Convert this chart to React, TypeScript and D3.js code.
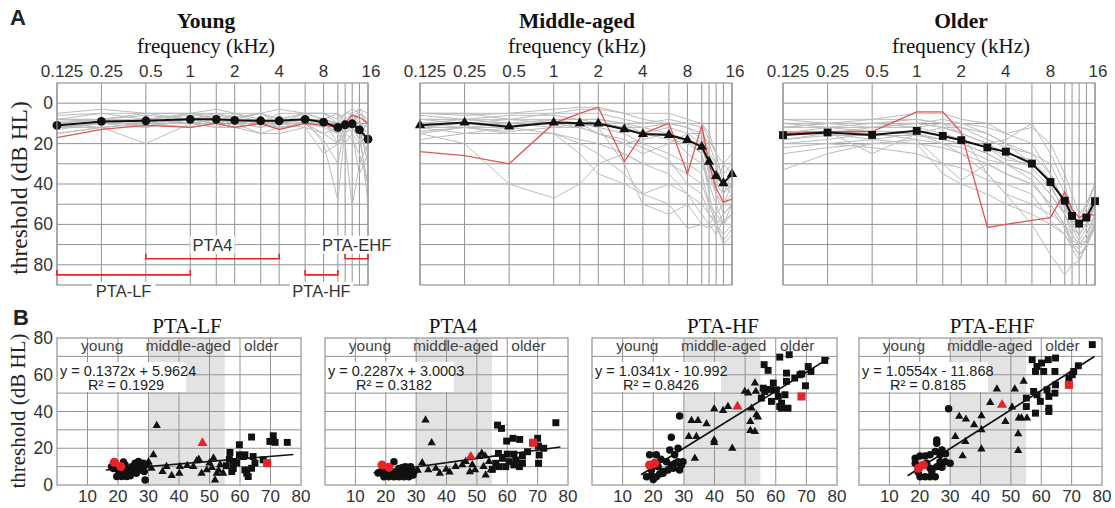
import React from "react";
import * as d3 from "d3";

const SANS = "'Liberation Sans', Arial, Helvetica, sans-serif";
const SERIF = "'Liberation Serif', 'Times New Roman', serif";

// ---------- Panel A data ----------
const FREQS = [0.125, 0.25, 0.5, 1, 1.5, 2, 3, 4, 6, 8, 10, 11.2, 12.5, 14, 16];
const FREQ_LABEL_VALUES = [0.125, 0.25, 0.5, 1, 2, 4, 8, 16];
const FREQ_LABELS = ["0.125", "0.25", "0.5", "1", "2", "4", "8", "16"];
const DB_TICKS = [0, 20, 40, 60, 80];

const YOUNG_MEAN = [11, 9, 8.7, 8, 8, 8.5, 8.7, 8.7, 8, 9.4, 12, 10.7, 10.2, 13.2, 17.8];
const YOUNG_RED = [17, 13, 11, 12, 10, 12, 10, 13, 10, 11, 12, 10, 6, 7, 10];
const YOUNG_INDIV = [
  [8, 5, 5, 5, 5, 7, 5, 8, 5, 5, 10, 5, 3, 5, 10],
  [10, 8, 10, 8, 6, 8, 8, 10, 8, 10, 15, 10, 8, 10, 20],
  [12, 10, 8, 10, 10, 5, 10, 8, 8, 10, 12, 15, 10, 15, 25],
  [15, 12, 20, 10, 8, 10, 12, 10, 10, 15, 20, 15, 18, 25, 40],
  [10, 10, 10, 5, 8, 10, 8, 12, 10, 8, 10, 8, 5, 10, 15],
  [8, 8, 5, 8, 10, 8, 10, 5, 5, 5, 5, 8, 10, 5, 8],
  [12, 10, 10, 10, 12, 12, 10, 10, 8, 20, 48, 12, 10, 12, 30],
  [10, 8, 12, 8, 5, 5, 8, 10, 5, 8, 10, 10, 8, 15, 18],
  [15, 12, 10, 12, 10, 12, 15, 12, 10, 12, 15, 20, 51, 30, 20],
  [5, 3, 5, 5, 3, 5, 5, 3, 5, 5, 8, 5, 5, 3, 5],
  [12, 10, 8, 10, 8, 10, 15, 15, 12, 25, 20, 15, 12, 18, 40],
  [10, 10, 12, 8, 10, 8, 5, 10, 10, 8, 12, 10, 15, 20, 15],
  [8, 8, 8, 8, 8, 10, 10, 10, 8, 8, 10, 12, 10, 10, 12],
  [13, 10, 8, 5, 8, 8, 12, 8, 10, 18, 30, 10, 8, 12, 50],
  [10, 12, 10, 12, 10, 12, 10, 12, 10, 10, 15, 12, 10, 2, 12],
  [6, 5, 8, 6, 5, 8, 5, 8, 5, 8, 5, 10, 5, 8, 20],
  [12, 12, 10, 10, 12, 10, 8, 10, 12, 15, 12, 20, 15, 35, 25],
  [9, 8, 6, 8, 10, 8, 10, 8, 8, 8, 20, 10, 12, 18, 8],
];

const MIDDLE_MEAN = [10.9, 9.6, 11.6, 9.6, 9.9, 10, 12.9, 15.3, 15.7, 18.2, 21.6, 29, 36, 39.6, 35];
const MIDDLE_RED = [24, 26, 30, 10, 5, 2, 29, 15, 10, 35, 11, 30, 42, 49, 47.5];
const MIDDLE_INDIV = [
  [5, 5, 5, 5, 3, 3, 5, 5, 5, 8, 10, 15, 25, 40, 45],
  [8, 8, 10, 8, 8, 8, 10, 10, 10, 12, 15, 30, 45, 55, 50],
  [10, 10, 12, 10, 10, 10, 12, 15, 15, 20, 25, 40, 50, 60, 55],
  [15, 20, 40, 47, 40, 30, 25, 30, 35, 45, 50, 55, 60, 65, 60],
  [12, 12, 12, 8, 10, 15, 20, 25, 20, 15, 20, 35, 45, 50, 40],
  [5, 5, 8, 5, 5, 5, 8, 10, 8, 10, 12, 25, 30, 35, 30],
  [10, 8, 10, 12, 10, 12, 30, 50, 55, 50, 60, 62, 60, 55, 50],
  [15, 12, 15, 15, 20, 25, 35, 45, 40, 45, 55, 60, 65, 58, 55],
  [8, 10, 10, 10, 12, 15, 20, 18, 15, 18, 25, 45, 60, 70, 65],
  [12, 15, 12, 10, 10, 10, 10, 15, 18, 20, 20, 35, 40, 45, 40],
  [10, 10, 8, 8, 8, 10, 12, 15, 12, 15, 15, 20, 30, 45, 35],
  [18, 15, 15, 15, 18, 20, 25, 30, 30, 35, 40, 50, 55, 60, 60],
  [5, 6, 5, 3, 2, 2, 5, 8, 10, 10, 10, 18, 25, 30, 25],
  [12, 10, 12, 15, 25, 35, 40, 45, 50, 62, 60, 60, 55, 50, 45],
  [10, 12, 10, 10, 10, 12, 15, 20, 25, 30, 35, 50, 60, 68, 62],
  [8, 8, 8, 10, 12, 10, 12, 12, 15, 25, 30, 40, 40, 30, 35],
  [14, 12, 14, 12, 12, 15, 18, 22, 28, 40, 45, 55, 58, 60, 50],
  [6, 8, 6, 6, 8, 8, 10, 12, 10, 12, 18, 30, 35, 40, 42],
];

const OLDER_MEAN = [15.8, 14.5, 15.7, 13.7, 16.2, 18.3, 21.9, 24, 29.9, 39, 48.3, 55.8, 59.6, 56.6, 48.5];
const OLDER_RED = [15, 14, 14, 4.3, 4.3, 14.5, 61.5, 60, 58, 56.6, 44, 52.5, 56.6, 55, 55.4];
const OLDER_INDIV = [
  [10, 10, 8, 5, 5, 8, 10, 15, 12, 20, 35, 45, 55, 50, 40],
  [15, 12, 10, 8, 10, 12, 15, 20, 25, 35, 50, 60, 65, 60, 50],
  [20, 18, 15, 15, 18, 20, 25, 30, 35, 45, 55, 65, 70, 65, 55],
  [33, 25, 20, 18, 20, 25, 30, 35, 40, 50, 60, 70, 75, 72, 60],
  [12, 10, 10, 12, 10, 15, 20, 18, 10, 25, 40, 55, 60, 55, 45],
  [18, 15, 18, 20, 35, 40, 45, 50, 55, 60, 65, 70, 72, 68, 55],
  [8, 8, 8, 8, 10, 10, 15, 20, 30, 40, 55, 62, 65, 60, 50],
  [15, 15, 12, 10, 12, 15, 35, 45, 50, 55, 60, 68, 70, 68, 60],
  [22, 20, 22, 25, 30, 32, 38, 40, 45, 58, 65, 72, 78, 70, 58],
  [10, 12, 12, 10, 8, 10, 12, 15, 20, 35, 50, 58, 62, 55, 45],
  [14, 14, 15, 18, 30, 38, 30, 35, 40, 50, 60, 65, 70, 65, 55],
  [12, 10, 10, 10, 12, 12, 18, 22, 25, 30, 45, 55, 60, 52, 40],
  [25, 22, 20, 20, 22, 25, 35, 45, 60, 75, 85, 80, 78, 70, 60],
  [18, 16, 16, 16, 18, 20, 25, 30, 35, 45, 55, 62, 68, 62, 50],
  [8, 10, 12, 12, 15, 18, 22, 28, 30, 40, 48, 55, 58, 50, 40],
  [20, 20, 18, 15, 20, 22, 28, 30, 38, 52, 62, 70, 75, 70, 62],
  [16, 14, 25, 15, 12, 15, 20, 25, 28, 38, 50, 58, 60, 55, 48],
  [12, 12, 14, 14, 16, 18, 22, 26, 32, 42, 52, 60, 65, 60, 52],
];

// PTA frequency bands (Young panel)
const BAND_NAMES = ["PTA-LF", "PTA4", "PTA-HF", "PTA-EHF"];
const BAND_LO = [0.125, 0.5, 6, 11.2];
const BAND_HI = [1, 4, 10, 16];
const BAND_LEVEL = [85, 77, 85, 77];
const BAND_LABEL_BELOW = [true, false, true, false];

// ---------- Panel B data ----------
const AGE_TICKS = [10, 20, 30, 40, 50, 60, 70, 80];
const THR_TICKS = [0, 20, 40, 60, 80];
const MIDDLE_BAND = [30, 55];
const GROUP_LABELS = ["young", "middle-aged", "older"];
const GROUP_LABEL_AGES = [14.8, 43, 67];
const REG_AGE_RANGE = [16, 77.5];

const LF_YOUNG = [[18.5, 9], [19.6, 4.6], [20.1, 8.2], [21.2, 4.6], [21.2, 9.1], [21.8, 7.3], [22.3, 11], [22.8, 4.6], [23.4, 8.2], [23.9, 6.4], [24.5, 10], [25, 8.2], [25.6, 11.9], [26, 6.4], [26.7, 12.8], [27.2, 8.2], [27.8, 10], [28.3, 11.9], [28.6, 7.3], [28.9, 2.7], [29.4, 11], [17.9, 10], [21.8, 12.5], [24, 5], [26.5, 9.5]];
const LF_MID = [[32.7, 32.3], [31.6, 16.4], [30, 12.6], [34.6, 7.3], [37.6, 5.1], [40.1, 6.4], [40.3, 10], [42.7, 10.6], [44.7, 10], [45.8, 13.2], [47.4, 6.4], [49.1, 8.2], [50, 11.9], [51.3, 14.6], [51.8, 2.7], [52.4, 6.4], [53.5, 11], [54.5, 6.4], [35.9, 10], [31, 9], [46.5, 14], [50.8, 9.5], [53, 8]];
const LF_OLD = [[56.7, 17.7], [56.5, 14], [57.3, 7.3], [57.8, 9], [58.9, 11.9], [59.8, 21.9], [59.8, 16.4], [61.1, 15.5], [61.6, 8.2], [62.2, 6.4], [62.7, 4.6], [63.8, 26.1], [64.3, 15.5], [64.9, 11.9], [61.6, 16.4], [67.6, 13.7], [69.8, 23.7], [70.9, 26.8], [71.5, 23.2], [75.5, 23.2], [63.8, 9.1], [57.8, 12.8], [55.5, 10.5]];
const LF_RED_AGES = [18.8, 20.9, 47.7, 68.9];
const LF_RED_VALUES = [12.4, 10, 22.8, 11.9];

const P4_YOUNG = [[19.4, 4.5], [21, 4.5], [22.7, 4.5], [24.3, 4.5], [26, 4.5], [27.6, 4.5], [22.7, 12.7], [24.3, 9], [26.5, 10], [28.2, 10], [29.3, 7.2], [25.4, 7.2], [21.6, 7.2], [18.3, 7.2], [23.2, 7.2], [27.1, 7.2], [19.4, 8.2], [29, 5.5], [20.5, 6], [25.5, 9.5], [17.5, 6.5]];
const P4_MID = [[33.1, 35.3], [35.1, 23], [32, 12.1], [34, 8.2], [37.8, 6.3], [39.9, 8.5], [43, 10], [45.2, 10.9], [46.3, 12.7], [47.7, 7.2], [49.4, 8.2], [50.7, 15.4], [51.6, 17.2], [52.7, 15.8], [52.2, 10], [52.9, 5.4], [54, 12.7], [54.6, 8.2], [41, 7], [36.5, 9], [30.5, 8], [48.5, 11]];
const P4_OLD = [[56.8, 32.6], [58.1, 30.8], [59.8, 23.9], [61.9, 25.4], [64.1, 24.8], [57.1, 17.2], [58.4, 14.5], [60, 16.8], [62.2, 16.8], [62.8, 13.6], [65, 15.8], [65, 11.8], [64, 10], [56.2, 11.8], [57.3, 10], [55.1, 8.5], [62.2, 10.9], [59.5, 10], [60.6, 12.7], [70, 25.4], [70.3, 21.2], [70.5, 16.3], [70.3, 11.8], [76, 33.9], [66.7, 18.1], [72, 20]];
const P4_RED_AGES = [18.8, 21, 48, 68.5];
const P4_RED_VALUES = [10.9, 9.6, 15.4, 23];

const HF_YOUNG = [[17.8, 4.5], [19.4, 5.1], [21, 4.5], [22.1, 6], [23.2, 7.3], [24.8, 8.2], [25.9, 10.9], [27.2, 11.8], [29.2, 10.9], [29.7, 12.7], [28.1, 12.7], [24.3, 12.7], [25.4, 19.1], [28.1, 20], [25.9, 26], [28.6, 37.6], [18.8, 16.4], [21, 16.4], [21.6, 10], [23.2, 6.4], [19.4, 8.2], [28.6, 8.2], [26.5, 9.1], [27, 16.4], [22.5, 14], [20, 3]];
const HF_MID = [[33.6, 14.5], [31.6, 26.4], [34.1, 26.4], [32.5, 35.1], [34.6, 35.1], [37.4, 33.3], [39.9, 41.5], [39.9, 24.5], [39.9, 23.1], [42.8, 40.5], [45.8, 20], [44.4, 42.7], [49.9, 50.9], [51, 50], [52.1, 41.8], [51.7, 34.5], [51.7, 29.6], [53.2, 29.1], [53.7, 38.2], [54.2, 36.9], [53.2, 55.5], [53.5, 50.9]];
const HF_OLD = [[56.2, 65.5], [57.5, 62.4], [61.3, 69.6], [64.4, 70.9], [55.9, 52.7], [56.4, 50.9], [59.2, 55.5], [60.2, 51.8], [60.8, 48.2], [58.6, 45.5], [55.3, 47.3], [63.5, 60.9], [63.5, 56.4], [61.3, 42.7], [61.9, 41.8], [61.9, 44.5], [64, 41.8], [66.2, 58.2], [67.9, 60], [70.6, 64.5], [71.5, 61.8], [69.7, 54], [76, 67.8], [63, 49.1], [58, 52], [68.5, 60.5]];
const HF_RED_AGES = [18.8, 20.5, 47.5, 68.4];
const HF_RED_VALUES = [10.9, 11.8, 42.7, 48.2];

const EHF_YOUNG = [[18.5, 14.5], [20.1, 15.8], [21.8, 15.8], [23.4, 16.4], [18.5, 11.8], [22.3, 11.8], [23.4, 9.1], [20.1, 4.5], [21.8, 4.5], [23.4, 4.5], [25.1, 4.5], [24, 7.3], [25.6, 10], [27.3, 9.6], [28.4, 12.7], [30, 11.8], [26.7, 12.7], [26.7, 16.4], [27.3, 19.1], [25.6, 22.7], [25.6, 24.5], [29.5, 41.5], [25.1, 18.2], [19.5, 7], [28.5, 17]];
const EHF_MID = [[34.1, 15.8], [35, 23.6], [31.7, 26.4], [33, 37.3], [35.2, 35.8], [37.9, 32.7], [40.3, 37.6], [40.3, 30], [40.3, 19.5], [43.2, 44.9], [45.4, 52.2], [48.2, 34.5], [51.3, 52.2], [52.6, 36.4], [53.5, 36.4], [55.3, 36.4], [52.4, 27.8], [52.4, 18.7], [54.2, 56.4], [50.4, 42.4]];
const EHF_OLD = [[57, 68.2], [58.6, 64.5], [60.1, 66.4], [62.3, 68.2], [64.7, 69.1], [76.8, 76.4], [58.1, 61.8], [60.8, 61.8], [64.5, 61.8], [57.5, 50.9], [58.6, 49.1], [55.1, 47.3], [55.1, 42.7], [58.1, 39.1], [59.7, 45.5], [61.9, 51.8], [62.5, 48.2], [64.5, 50], [62.5, 41.8], [62.5, 40], [64.7, 54.5], [69.1, 58.2], [70.7, 61.8], [72.2, 64.9], [70.2, 60]];
const EHF_RED_AGES = [19.6, 21.2, 47.1, 69.1];
const EHF_RED_VALUES = [9.1, 10.9, 43.6, 54.5];

const RED_SHAPES = ["circle", "circle", "triangle", "square"];
const PTA_TITLES = ["PTA-LF", "PTA4", "PTA-HF", "PTA-EHF"];
const REG_SLOPES = [0.1372, 0.2287, 1.0341, 1.0554];
const REG_INTERCEPTS = [5.9624, 3.0003, -10.992, -11.868];
const REG_EQUATIONS = ["y = 0.1372x + 5.9624", "y = 0.2287x + 3.0003", "y = 1.0341x - 10.992", "y = 1.0554x - 11.868"];
const REG_R2 = ["R² = 0.1929", "R² = 0.3182", "R² = 0.8426", "R² = 0.8185"];

// ---------- styling ----------
const GRID = "#939393";
const INDIV = "#bcbcbc";
const RED = "#e4232a";
const RED_LINE = "#e05555";
const TXT = "#333";

function symbolPath(shape: string, size: number) {
  const t = shape === "circle" ? d3.symbolCircle : shape === "triangle" ? d3.symbolTriangle : d3.symbolSquare;
  return d3.symbol().type(t).size(size)() as string;
}

type AudioProps = {
  x0: number; x1: number; y0: number; y1: number;
  indiv: number[][]; red: number[]; mean: number[]; marker: string;
  title: string; titleX: number; brackets?: boolean;
};

function Audiogram({ x0, x1, y0, y1, indiv, red, mean, marker, title, titleX, brackets }: AudioProps) {
  const x = d3.scaleLog().base(2).domain([0.125, 16]).range([x0, x1]);
  const y = d3.scaleLinear().domain([-10, 90]).range([y0, y1]);
  const line = d3.line<number>().x((_, i) => x(FREQS[i])).y((d) => y(d));
  const hGrid = d3.range(0, 90, 10);
  const markerSize = marker === "circle" ? 62 : marker === "triangle" ? 46 : 62;
  return (
    <g>
      <text x={titleX} y={28} textAnchor="middle" fontFamily={SERIF} fontWeight="bold" fontSize={21.5} fill="#111">{title}</text>
      <text x={titleX} y={53} textAnchor="middle" fontFamily={SERIF} fontSize={21} fill="#111">frequency (kHz)</text>
      {FREQ_LABEL_VALUES.map((f, i) => (
        <text key={"fl" + i} x={x(f) + (f < 1 ? 5 : f === 16 ? 3 : 0)} y={77} textAnchor="middle" fontFamily={SANS} fontSize={17} fill={TXT}>{FREQ_LABELS[i]}</text>
      ))}
      <rect x={x0} y={y0} width={x1 - x0} height={y1 - y0} fill="#fff" />
      {hGrid.map((v) => (
        <line key={"h" + v} x1={x0} x2={x1} y1={y(v)} y2={y(v)} stroke={GRID} strokeWidth={1} />
      ))}
      {FREQS.map((f) => (
        <line key={"v" + f} x1={x(f)} x2={x(f)} y1={y0} y2={y1} stroke={GRID} strokeWidth={1} />
      ))}
      {indiv.map((row, i) => (
        <path key={"i" + i} d={line(row) as string} fill="none" stroke={INDIV} strokeWidth={1} />
      ))}
      <path d={line(red) as string} fill="none" stroke={RED_LINE} strokeWidth={1.3} />
      <path d={line(mean) as string} fill="none" stroke="#111" strokeWidth={2} />
      {mean.map((v, i) => (
        <path key={"m" + i} d={symbolPath(marker, markerSize)} transform={`translate(${x(FREQS[i])},${y(v)})`} fill="#111" />
      ))}
      <rect x={x0} y={y0} width={x1 - x0} height={y1 - y0} fill="none" stroke={GRID} strokeWidth={1.2} />
      {brackets && BAND_NAMES.map((name, i) => {
        const bx0 = x(BAND_LO[i]);
        const bx1 = x(BAND_HI[i]);
        const by = y(BAND_LEVEL[i]);
        const cx = x(Math.sqrt(BAND_LO[i] * BAND_HI[i]));
        const ly = BAND_LABEL_BELOW[i] ? by + 16 : by - 14;
        const w = name.length * 9.6 + 6;
        return (
          <g key={name}>
            <path d={`M${bx0},${by - 5}V${by}H${bx1}V${by - 5}`} fill="none" stroke={RED} strokeWidth={1.6} />
            <rect x={cx - w / 2} y={ly - 9} width={w} height={18} fill="#fff" />
            <text x={cx} y={ly + 6} textAnchor="middle" fontFamily={SANS} fontSize={16.5} fill={TXT}>{name}</text>
          </g>
        );
      })}
    </g>
  );
}

type ScatterProps = {
  idx: number; x0: number; x1: number; y0: number; y1: number; titleX: number;
  young: number[][]; mid: number[][]; old: number[][]; redAges: number[]; redValues: number[];
  yTicks?: boolean;
};

function Scatter({ idx, x0, x1, y0, y1, titleX, young, mid, old, redAges, redValues, yTicks }: ScatterProps) {
  const x = d3.scaleLinear().domain([0, 80]).range([x0, x1]);
  const y = d3.scaleLinear().domain([0, 80]).range([y1, y0]);
  const grid = d3.range(10, 80, 10);
  const reg = (a: number) => REG_SLOPES[idx] * a + REG_INTERCEPTS[idx];
  const regLine = d3.line<number>().x((a) => x(a)).y((a) => y(reg(a)));
  const groups: [number[][], string, number][] = [[young, "circle", 44], [mid, "triangle", 30], [old, "square", 48]];
  return (
    <g>
      <text x={titleX} y={333} textAnchor="middle" fontFamily={SERIF} fontSize={21} fill="#111">{PTA_TITLES[idx]}</text>
      <rect x={x0} y={y0} width={x1 - x0} height={y1 - y0} fill="#fff" />
      <rect x={x(MIDDLE_BAND[0])} y={y0} width={x(MIDDLE_BAND[1]) - x(MIDDLE_BAND[0])} height={y1 - y0} fill="#e3e3e3" />
      {grid.map((v) => (
        <line key={"h" + v} x1={x0} x2={x1} y1={y(v)} y2={y(v)} stroke={GRID} strokeWidth={1} />
      ))}
      {grid.map((v) => (
        <line key={"v" + v} x1={x(v)} x2={x(v)} y1={y0} y2={y1} stroke={GRID} strokeWidth={1} />
      ))}
      <rect x={x0} y={y0} width={x1 - x0} height={y1 - y0} fill="none" stroke={GRID} strokeWidth={1.2} />
      {GROUP_LABELS.map((g, i) => (
        <text key={g} x={x(GROUP_LABEL_AGES[i])} y={351} textAnchor="middle" fontFamily={SANS} fontSize={15.5} fill="#444">{g}</text>
      ))}
      <rect x={x0 + 1} y={362} width={128} height={30} fill="#fff" />
      <text x={x0 + 3} y={376} fontFamily={SANS} fontSize={14.5} fill="#222">{REG_EQUATIONS[idx]}</text>
      <text x={x0 + 31} y={390} fontFamily={SANS} fontSize={14.5} fill="#222">{REG_R2[idx]}</text>
      {groups.map(([pts, shape, size]) =>
        pts.map((p, j) => (
          <path key={shape + j} d={symbolPath(shape, size)} transform={`translate(${x(p[0])},${y(p[1])})`} fill="#111" />
        ))
      )}
      <path d={regLine(REG_AGE_RANGE) as string} fill="none" stroke="#111" strokeWidth={1.6} />
      {redAges.map((a, j) => (
        <path key={"r" + j} d={symbolPath(RED_SHAPES[j], RED_SHAPES[j] === "triangle" ? 44 : 66)} transform={`translate(${x(a)},${y(redValues[j])})`} fill={RED} />
      ))}
      {AGE_TICKS.map((t) => (
        <text key={"xt" + t} x={x(t)} y={502} textAnchor="middle" fontFamily={SANS} fontSize={17} fill={TXT}>{t}</text>
      ))}
      {yTicks && THR_TICKS.map((t) => (
        <text key={"yt" + t} x={x0 - 4} y={y(t) + 6} textAnchor="end" fontFamily={SANS} fontSize={17.5} fill={TXT}>{t}</text>
      ))}
    </g>
  );
}

export default function App() {
  const topY = d3.scaleLinear().domain([-10, 90]).range([83, 285]);
  return (
    <svg width={1115} height={508} viewBox="0 0 1115 508" style={{ position: "absolute", left: 0, top: 0, display: "block", background: "#fff" }}>
      <rect x={0} y={0} width={1115} height={508} fill="#fff" />
      <text x={10} y={25} fontFamily={SANS} fontWeight="bold" fontSize={22} fill="#222">A</text>
      <text x={13} y={325} fontFamily={SANS} fontWeight="bold" fontSize={22} fill="#222">B</text>

      {/* Panel A */}
      <text transform="translate(27,188) rotate(-90)" textAnchor="middle" fontFamily={SERIF} fontSize={23.5} fill="#222">threshold (dB HL)</text>
      {DB_TICKS.map((t) => (
        <text key={"dbt" + t} x={53} y={topY(t) + 6} textAnchor="end" fontFamily={SANS} fontSize={17.5} fill={TXT}>{t}</text>
      ))}
      <Audiogram x0={57} x1={368} y0={83} y1={285} indiv={YOUNG_INDIV} red={YOUNG_RED} mean={YOUNG_MEAN} marker="circle" title="Young" titleX={206} brackets />
      <Audiogram x0={420} x1={732} y0={83} y1={285} indiv={MIDDLE_INDIV} red={MIDDLE_RED} mean={MIDDLE_MEAN} marker="triangle" title="Middle-aged" titleX={577} />
      <Audiogram x0={783} x1={1095} y0={83} y1={285} indiv={OLDER_INDIV} red={OLDER_RED} mean={OLDER_MEAN} marker="square" title="Older" titleX={961} />

      {/* Panel B */}
      <text transform="translate(25,411) rotate(-90)" textAnchor="middle" fontFamily={SERIF} fontSize={21} fill="#222">threshold (dB HL)</text>
      <Scatter idx={0} x0={57} x1={301} y0={338} y1={485} titleX={187} young={LF_YOUNG} mid={LF_MID} old={LF_OLD} redAges={LF_RED_AGES} redValues={LF_RED_VALUES} yTicks />
      <Scatter idx={1} x0={325} x1={568} y0={338} y1={485} titleX={453} young={P4_YOUNG} mid={P4_MID} old={P4_OLD} redAges={P4_RED_AGES} redValues={P4_RED_VALUES} />
      <Scatter idx={2} x0={592} x1={837} y0={338} y1={485} titleX={723} young={HF_YOUNG} mid={HF_MID} old={HF_OLD} redAges={HF_RED_AGES} redValues={HF_RED_VALUES} />
      <Scatter idx={3} x0={859} x1={1102} y0={338} y1={485} titleX={992} young={EHF_YOUNG} mid={EHF_MID} old={EHF_OLD} redAges={EHF_RED_AGES} redValues={EHF_RED_VALUES} />
    </svg>
  );
}
